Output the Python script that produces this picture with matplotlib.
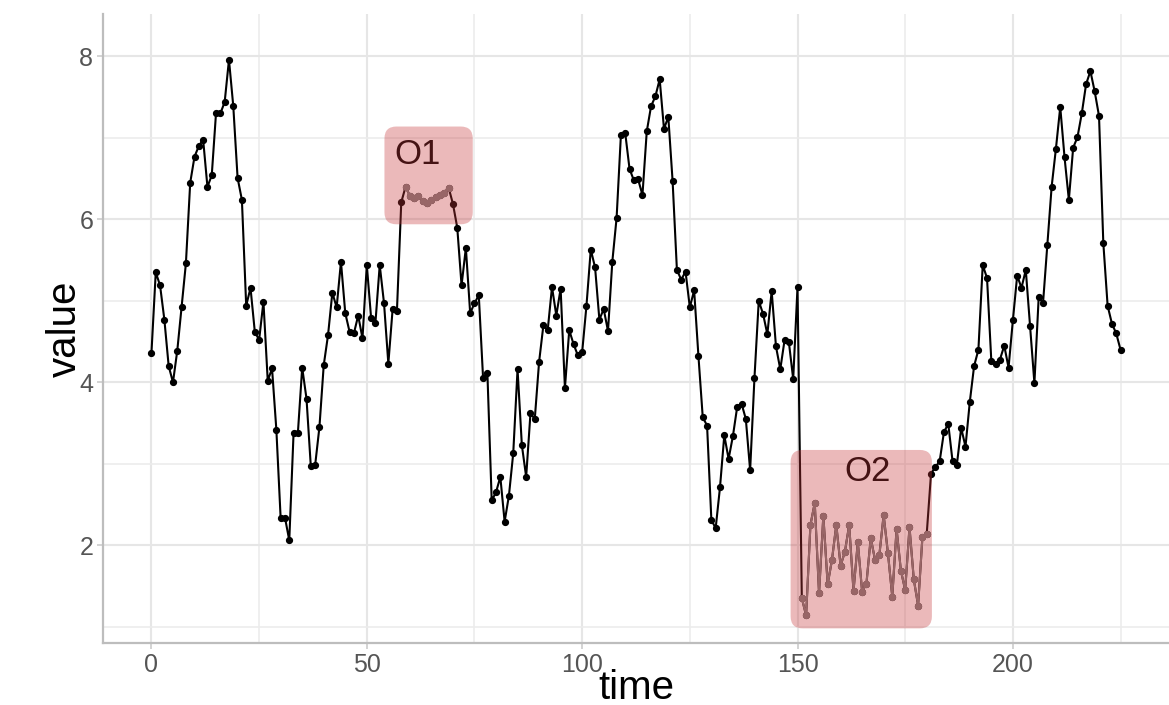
import numpy as np
import matplotlib.pyplot as plt
from matplotlib.patches import FancyBboxPatch

# series values, one list per stretch of time
values_a = [4.36, 5.35, 5.19, 4.77, 4.20, 4.00, 4.39, 4.92, 5.46, 6.45,
            6.77, 6.90, 6.98, 6.40, 6.54, 7.31, 7.30, 7.44, 7.96, 7.39,
            6.51, 6.24, 4.94, 5.16, 4.62, 4.52, 4.99, 4.02, 4.17, 3.42,
            2.33, 2.34, 2.06, 3.38, 3.38, 4.18, 3.80, 2.97, 2.98, 3.45,
            4.21, 4.58, 5.10, 4.92, 5.48, 4.85, 4.62, 4.60, 4.82, 4.54,
            5.44, 4.79, 4.73, 5.44, 4.97, 4.23, 4.90, 4.88, 6.21]
values_o1 = [6.40, 6.29, 6.26, 6.29, 6.23, 6.20, 6.24, 6.27, 6.30, 6.33, 6.39]
values_b = [6.19, 5.90, 5.19, 5.65, 4.85, 4.97, 5.07, 4.05, 4.11, 2.55,
            2.65, 2.84, 2.29, 2.61, 3.13, 4.16, 3.23, 2.84, 3.62, 3.55,
            4.25, 4.70, 4.64, 5.17, 4.82, 5.15, 3.93, 4.64, 4.47, 4.33,
            4.37, 4.94, 5.63, 5.41, 4.77, 4.90, 4.63, 5.48, 6.02, 7.04,
            7.06, 6.62, 6.48, 6.49, 6.30, 7.08, 7.39, 7.51, 7.72, 7.11,
            7.26, 6.47, 5.38, 5.26, 5.36, 4.92, 5.13, 4.32, 3.57, 3.47,
            2.31, 2.21, 2.71, 3.35, 3.06, 3.34, 3.70, 3.74, 3.55, 2.92,
            4.05, 5.00, 4.84, 4.59, 5.12, 4.44, 4.16, 4.52, 4.49, 4.04,
            5.17]
values_o2 = [1.35, 1.14, 2.25, 2.52, 1.41, 2.36, 1.52, 1.82, 2.25, 1.75,
             1.92, 2.25, 1.44, 2.04, 1.43, 1.53, 2.09, 1.82, 1.88, 2.37,
             1.90, 1.37, 2.20, 1.69, 1.45, 2.22, 1.58, 1.26, 2.10, 2.14]
values_c = [2.88, 2.96, 3.03, 3.39, 3.49, 3.03, 2.99, 3.44, 3.21, 3.76,
            4.20, 4.40, 5.44, 5.28, 4.26, 4.23, 4.28, 4.45, 4.18, 4.76,
            5.31, 5.16, 5.38, 4.69, 3.99, 5.05, 4.97, 5.68, 6.40, 6.87,
            7.38, 6.76, 6.24, 6.88, 7.01, 7.30, 7.66, 7.82, 7.57, 7.27,
            5.71, 4.94, 4.72, 4.60, 4.40]

values = np.array(values_a + values_o1 + values_b + values_o2 + values_c)
time = np.arange(len(values))

# outlier segments: label, first index, last index
o1_start = len(values_a)
o1_end = o1_start + len(values_o1) - 1
o2_start = o1_end + 1 + len(values_b)
o2_end = o2_start + len(values_o2) - 1
outliers = [('O1', o1_start, o1_end), ('O2', o2_start, o2_end)]

# annotation boxes (x0, x1, y0, y1) and label spots
boxes = {'O1': (54.1, 74.6, 5.94, 7.14), 'O2': (148.4, 181.2, 0.98, 3.17)}
labels = {'O1': (61.9, 6.80), 'O2': (166.2, 2.90)}

plt.rcParams['font.family'] = ['Liberation Sans', 'DejaVu Sans']

fig = plt.figure(figsize=(11.69, 7.05), dpi=100)
ax = fig.add_axes([0.0881, 0.0879, 0.9119, 0.8921])

xlim = (-11.25, 236.25)
ylim = (0.80, 8.52)
ax.set_xlim(*xlim)
ax.set_ylim(*ylim)

# grid, major and minor
ax.set_xticks([0, 50, 100, 150, 200])
ax.set_xticks([25, 75, 125, 175, 225], minor=True)
ax.set_yticks([2, 4, 6, 8])
ax.set_yticks([1, 3, 5, 7], minor=True)
ax.grid(True, which='major', color='#e6e6e6', linewidth=1.5, zorder=0)
ax.grid(True, which='minor', color='#ececec', linewidth=1.2, zorder=0)
ax.set_axisbelow(True)

# main series
ax.plot(time, values, color='black', linewidth=1.5, marker='o',
        markersize=4.2, zorder=3)

# outlier stretches in grey
for name, i0, i1 in outliers:
    ax.plot(time[i0:i1 + 1], values[i0:i1 + 1], color='#808080',
            linewidth=1.5, marker='o', markersize=4.2, zorder=4)
    lx, ly = labels[name]
    ax.text(lx, ly, name, fontsize=25, color='black', ha='center',
            va='center', zorder=5)

# rounded shaded boxes over the outliers
px_x = 1169 * 0.9119 / (xlim[1] - xlim[0])
px_y = 705 * 0.8921 / (ylim[1] - ylim[0])
for name, (x0, x1, y0, y1) in boxes.items():
    r = 12 / px_x
    patch = FancyBboxPatch((x0, y0), x1 - x0, y1 - y0,
                           boxstyle='round,pad=0,rounding_size=%f' % r,
                           mutation_aspect=px_x / px_y,
                           facecolor='#c6373a', alpha=0.35,
                           edgecolor='none', zorder=6)
    ax.add_patch(patch)

# axes look
for side in ['top', 'right']:
    ax.spines[side].set_visible(False)
for side in ['left', 'bottom']:
    ax.spines[side].set_color('#bdbdbd')
    ax.spines[side].set_linewidth(1.6)
ax.tick_params(which='major', length=4, width=1.2, color='#cccccc',
               labelsize=18, labelcolor='#555555', pad=3)
ax.tick_params(which='minor', length=0)

ax.set_xlabel('time', fontsize=29, va='center')
ax.xaxis.set_label_coords(0.5, -0.0715)
ax.set_ylabel('value', fontsize=29, va='center')
ax.yaxis.set_label_coords(-0.0356, 0.5)

fig.savefig('out.png', dpi=100)
